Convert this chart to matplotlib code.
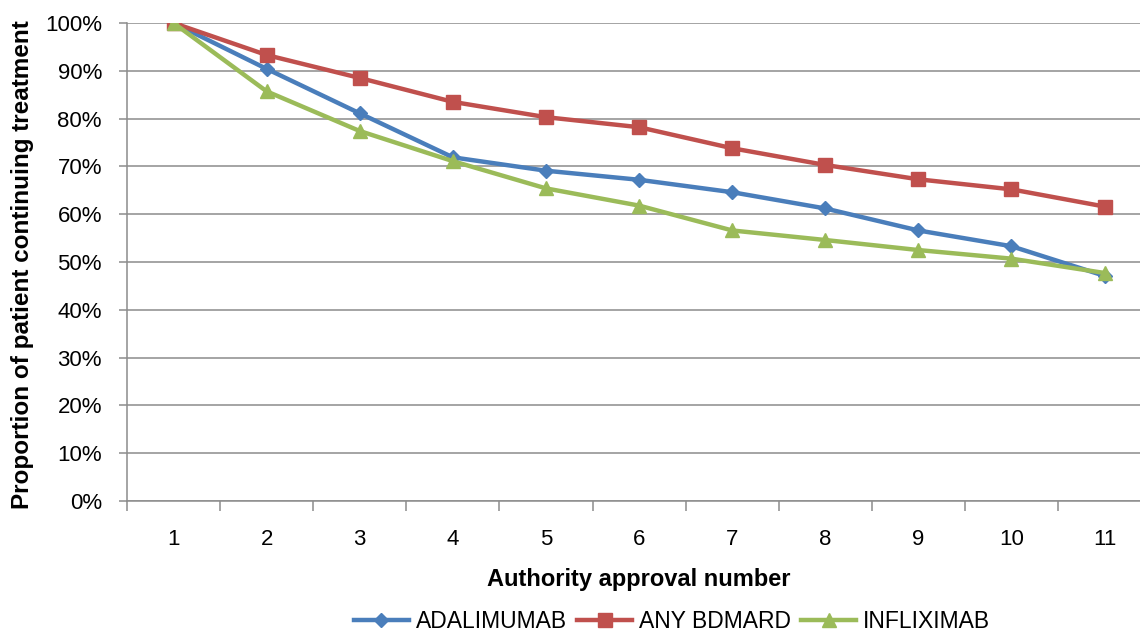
import matplotlib
matplotlib.use("Agg")
import matplotlib.pyplot as plt
from matplotlib.ticker import PercentFormatter

# ── Data ─────────────────────────────────────────────────────
approval = [1, 2, 3, 4, 5, 6, 7, 8, 9, 10, 11]
adalimumab = [100, 90.4, 81.1, 71.9, 69.1, 67.2, 64.6, 61.2, 56.6, 53.3, 47.1]
any_bdmard = [100, 93.3, 88.5, 83.5, 80.3, 78.2, 73.8, 70.3, 67.3, 65.2, 61.6]
infliximab = [100, 85.7, 77.4, 71.1, 65.4, 61.8, 56.6, 54.6, 52.5, 50.7, 47.7]

blue = "#4a7ebb"
red = "#c0504d"
green = "#9bbb59"
grey = "#8c8c8c"

plt.rcParams["font.family"] = ["Liberation Sans", "DejaVu Sans"]

fig = plt.figure(figsize=(11.4, 6.34), dpi=100)
ax = fig.add_axes([127 / 1140, 133 / 634, 1 - 127 / 1140, 478 / 634])

# Series, in Excel drawing order (green ends up on top)
ax.plot(approval, adalimumab, color=blue, lw=3.2, marker="D", ms=7,
        label="ADALIMUMAB", zorder=3)
ax.plot(approval, any_bdmard, color=red, lw=3.2, marker="s", ms=10,
        label="ANY BDMARD", zorder=3)
ax.plot(approval, infliximab, color=green, lw=3.2, marker="^", ms=10,
        label="INFLIXIMAB", zorder=3)

ax.set_yticks(range(0, 101, 10))
ax.yaxis.set_major_formatter(PercentFormatter(decimals=0))
ax.set_xticks(approval)
ax.set_xticks([i + 0.5 for i in range(0, 12)], minor=True)

# limits after the ticks, otherwise set_xticks widens the view
# the right edge of the plot area is cut off in the source
ax.set_xlim(0.5, 0.5 + (1140 - 127) / 93.1)
ax.set_ylim(0, 100)

ax.grid(axis="y", color=grey, lw=1.1, zorder=0)
ax.set_axisbelow(True)

for side in ["top", "right"]:
    ax.spines[side].set_visible(False)
for side in ["left", "bottom"]:
    ax.spines[side].set_color(grey)
    ax.spines[side].set_linewidth(1.1)

ax.tick_params(axis="y", length=6, width=1.1, color=grey, pad=12, labelsize=16)
ax.tick_params(axis="x", which="major", length=0, pad=20, labelsize=16)
ax.tick_params(axis="x", which="minor", length=7, width=1.1, color=grey)

ax.set_xlabel("Authority approval number", fontsize=17, fontweight="bold")
ax.xaxis.set_label_coords((639 - 127) / 1013, -67 / 478)
ax.set_ylabel("Proportion of patient continuing treatment", fontsize=17.5,
              fontweight="bold")
ax.yaxis.set_label_coords(-93 / 1013, 0.494)

fig.legend(loc="center", bbox_to_anchor=(672 / 1140, 12 / 634), ncol=3,
           frameon=False, fontsize=16.5, handlelength=2.4, handletextpad=0.3,
           columnspacing=0.45)

fig.savefig("out.png", dpi=100)
